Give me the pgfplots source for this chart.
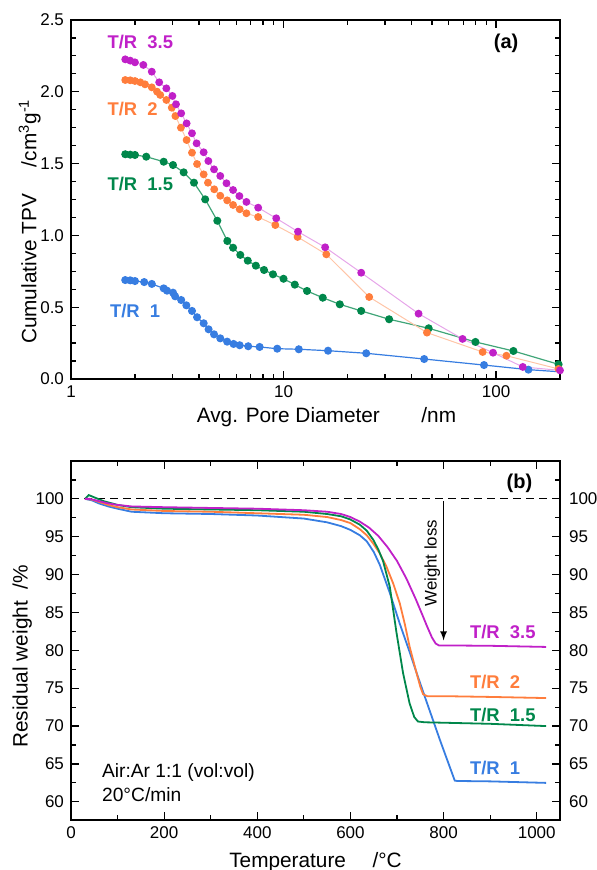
\documentclass[border=0pt]{standalone}
\usepackage{pgfplots}
\pgfplotsset{compat=1.18}
\usepackage{fontspec}
\setmainfont{Liberation Sans}

\definecolor{cpur}{RGB}{192,32,200}
\definecolor{cora}{RGB}{255,125,60}
\definecolor{cgre}{RGB}{0,135,75}
\definecolor{cblu}{RGB}{55,125,225}

\pgfplotsset{
  common/.style={
    width=244.5pt, height=179.5pt, scale only axis,
    tick align=inside,
    major tick length=4pt, minor tick length=2.4pt,
    axis line style={line width=0.75pt},
    every tick/.style={black, line width=0.6pt},
    tick label style={font=\fontsize{8.5}{10}\selectfont},
    label style={font=\fontsize{10.4}{12}\selectfont},
    /pgf/number format/assume math mode=true,
    /pgf/number format/1000 sep={},
  },
}
\tikzset{trlab/.style={font=\fontsize{9.2}{11}\selectfont\bfseries, anchor=west, inner sep=0pt}}

\begin{document}
\begin{tikzpicture}
\path[use as bounding box] (-35.5pt,-25pt) rectangle (263pt,410pt);

% ---------- (a) pore volume ----------
\begin{axis}[common,
  at={(0,220.5pt)}, anchor=south west,
  xmode=log, xmin=1, xmax=200,
  ymin=0, ymax=2.5,
  xtick={1,10,100}, xticklabels={1,10,100},
  ytick={0,0.5,...,2.5},
  minor ytick={0.125,0.25,...,2.5},
  yticklabel style={/pgf/number format/.cd, fixed, fixed zerofill, precision=1},
  xlabel={Avg. Pore Diameter\qquad/nm},
  ylabel={Cumulative TPV\quad\ /cm\textsuperscript{3}g\textsuperscript{-1}},
  xlabel style={yshift=2pt, xshift=5.5pt},
  ylabel style={yshift=-7pt, xshift=-11pt},
  mark size=1.7pt,
]
\addplot[cblu, line width=0.6pt, mark=*, mark options={fill=cblu, draw=cblu}] coordinates {
 (1.80,0.689) (1.90,0.687) (2.00,0.682) (2.21,0.675) (2.40,0.662) (2.73,0.631)
 (2.83,0.615) (3.02,0.601) (3.09,0.576) (3.30,0.550) (3.49,0.513) (3.71,0.474)
 (3.92,0.430) (4.21,0.388) (4.44,0.346) (4.71,0.311) (5.04,0.283) (5.43,0.260)
 (5.82,0.244) (6.22,0.235) (6.82,0.228) (7.72,0.223) (9.34,0.211) (11.8,0.207)
 (16.2,0.197) (24.5,0.179) (45.9,0.139) (87.8,0.097) (142,0.065)
};
\addplot[cblu, line width=0.6pt, no marks] coordinates {(142,0.065) (200,0.050)};
\addplot[cgre!75, line width=0.6pt, mark=*, mark options={fill=cgre, draw=cgre}] coordinates {
 (1.80,1.565) (1.90,1.562) (2.00,1.560) (2.26,1.548) (2.73,1.513) (3.02,1.490)
 (3.39,1.439) (3.79,1.367) (4.28,1.251) (4.88,1.102) (5.44,0.961) (5.79,0.914)
 (6.26,0.864) (6.79,0.824) (7.41,0.789) (8.10,0.759) (8.92,0.729) (10.0,0.698)
 (11.3,0.657) (12.9,0.613) (15.3,0.566) (18.4,0.520) (23.2,0.474) (31.4,0.416)
 (48.2,0.353) (80.0,0.258) (120.7,0.195) (197,0.102)
};
\addplot[cora!45, line width=0.5pt, mark=*, mark options={fill=cora, draw=cora}] coordinates {
 (1.80,2.082) (1.90,2.080) (2.00,2.075) (2.12,2.066) (2.23,2.052) (2.40,2.031)
 (2.54,2.001) (2.63,1.978) (2.81,1.943) (2.98,1.889) (3.10,1.831) (3.29,1.750)
 (3.50,1.664) (3.71,1.576) (3.92,1.497) (4.21,1.425) (4.41,1.367) (4.72,1.321)
 (5.04,1.276) (5.43,1.244) (5.79,1.212) (6.22,1.182) (6.69,1.154) (7.60,1.128)
 (9.15,1.072) (11.65,0.989) (15.9,0.868) (25.3,0.571) (47.3,0.323) (86.5,0.188)
 (111.9,0.162) (196.8,0.070)
};
\addplot[cpur!40, line width=0.5pt, mark=*, mark options={fill=cpur, draw=cpur}] coordinates {
 (1.80,2.226) (1.90,2.217) (2.00,2.205) (2.19,2.187) (2.40,2.140) (2.60,2.066)
 (2.81,2.024) (3.00,1.971) (3.12,1.913) (3.30,1.850) (3.50,1.780) (3.71,1.711)
 (3.90,1.641) (4.21,1.579) (4.43,1.518) (4.71,1.460) (5.04,1.414) (5.39,1.363)
 (5.79,1.316) (6.20,1.274) (6.69,1.233) (7.60,1.193) (9.24,1.119) (11.7,1.026)
 (15.7,0.917) (23.2,0.740) (43.2,0.455) (69.6,0.279) (96.8,0.183) (133.6,0.084)
 (200,0.060)
};
\node[trlab, text=cpur] at (axis cs:1.48,2.349) {T/R\ \ 3.5};
\node[trlab, text=cora] at (axis cs:1.48,1.878) {T/R\ \ 2};
\node[trlab, text=cgre] at (axis cs:1.48,1.358) {T/R\ \ 1.5};
\node[trlab, text=cblu] at (axis cs:1.52,0.476) {T/R\ \ 1};
\node[font=\fontsize{10}{12}\selectfont\bfseries] at (axis cs:111.5,2.338) {(a)};
\end{axis}

% ---------- (b) TGA ----------
\begin{axis}[common,
  at={(0,0)}, anchor=south west,
  xmin=0, xmax=1050, ymin=57.6, ymax=105,
  xtick={0,200,...,1000}, minor xtick={100,300,...,900},
  ytick={60,65,...,100}, minor ytick={57.5,62.5,...,102.5},
  ytick pos=left,
  xlabel={Temperature\quad\ /°C},
  ylabel={Residual weight\ \ /\%},
  xlabel style={yshift=0pt},
  ylabel style={yshift=-5pt, xshift=-8pt},
]
\addplot[black, dash pattern=on 4pt off 2.5pt, line width=0.6pt] coordinates {(0,100) (1050,100)};
\addplot[cblu, line width=0.9pt] coordinates {
 (30,100) (45,99.8) (60,99.4) (80,99.0) (100,98.7) (130,98.3) (200,98.1) (300,98.0)
 (400,97.8) (500,97.4) (550,96.9) (580,96.4) (600,95.9) (620,95.2) (635,94.4)
 (650,93.0) (663,91.3) (685,87.5) (706,83.5) (727,79.8) (745,76.5) (763,73.3)
 (792,68.2) (824,62.8) (830,62.75) (900,62.7) (1020,62.5)
};
\addplot[cora, line width=0.9pt] coordinates {
 (30,100) (45,99.9) (60,99.6) (80,99.2) (100,98.9) (130,98.6) (200,98.4) (300,98.3)
 (400,98.1) (500,97.9) (550,97.6) (580,97.2) (600,96.8) (620,96.0) (635,95.2)
 (649,94.1) (663,92.8) (677,91.1) (692,88.8) (706,86.2) (717,83.4) (727,80.5)
 (742,77.0) (750,75.2) (756,74.2) (765,73.95) (800,73.95) (900,73.85) (1020,73.7)
};
\addplot[cgre, line width=0.9pt] coordinates {
 (30,100) (38,100.5) (50,100.2) (70,99.7) (100,99.2) (130,98.9) (200,98.7)
 (300,98.6) (400,98.5) (500,98.3) (550,98.0) (580,97.7) (599,97.3) (620,96.6)
 (635,95.8) (649,94.6) (660,93.3) (670,91.8) (684.5,88.4) (699,82.3) (713,77.0)
 (727,73.0) (737,71.2) (745,70.6) (760,70.5) (900,70.3) (1020,70.0)
};
\addplot[cpur, line width=0.9pt] coordinates {
 (30,100) (40,100) (60,99.7) (80,99.4) (100,99.2) (130,99.0) (200,98.9)
 (300,98.8) (400,98.7) (450,98.6) (500,98.5) (550,98.3) (580,98.0) (600,97.6)
 (620,97.0) (640,96.2) (660,95.1) (680,93.6) (700,91.8) (720,89.5) (740,86.8)
 (755,84.6) (765,83.1) (775,81.7) (783,80.9) (790,80.65) (800,80.65) (900,80.6)
 (1020,80.45)
};
\draw[-latex, line width=0.6pt] (axis cs:800,99.7) -- (axis cs:800,81.3);
\node[rotate=90, font=\fontsize{8.4}{10}\selectfont] at (axis cs:776,91.5) {Weight loss};
\node[trlab, text=cpur] at (axis cs:856,82.4) {T/R\ \ 3.5};
\node[trlab, text=cora] at (axis cs:856,75.8) {T/R\ \ 2};
\node[trlab, text=cgre] at (axis cs:856,71.5) {T/R\ \ 1.5};
\node[trlab, text=cblu] at (axis cs:856,64.5) {T/R\ \ 1};
\node[font=\fontsize{10}{12}\selectfont\bfseries] at (axis cs:963,102.1) {(b)};
\node[anchor=west, inner sep=0pt, font=\fontsize{9.6}{11}\selectfont] at (axis cs:66,63.9) {Air:Ar 1:1 (vol:vol)};
\node[anchor=west, inner sep=0pt, font=\fontsize{9.6}{11}\selectfont] at (axis cs:66,60.9) {20°C/min};
\end{axis}
\begin{axis}[common,
  at={(0,0)}, anchor=south west,
  xmin=0, xmax=1050, ymin=57.6, ymax=105,
  axis x line=none, axis y line*=right,
  ytick={60,65,...,100}, minor ytick={57.5,62.5,...,102.5},
  yticklabel style={xshift=1pt},
]
\addplot[draw=none] coordinates {(0,60)};
\end{axis}
\end{tikzpicture}
\end{document}
